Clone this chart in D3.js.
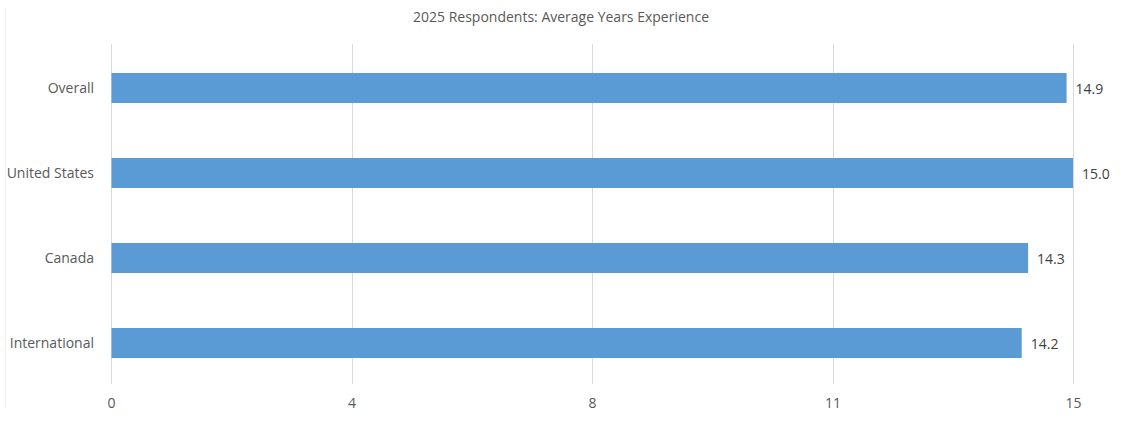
<!DOCTYPE html>
<html><head><meta charset="utf-8">
<script src="https://cdn.jsdelivr.net/npm/d3@7"></script>
<style>
body{margin:0;background:#fff;}
text{font-family:"Open Sans","Lato",sans-serif;}
</style></head>
<body><svg id="c" width="1121" height="422"></svg>
<script>
const categories = ["Overall","United States","Canada","International"];
const values = [14.9, 15.0, 14.3, 14.2];
const tickValues = [0, 3.75, 7.5, 11.25, 15];
const title = "2025 Respondents: Average Years Experience";

const svg = d3.select("#c");
const x = d3.scaleLinear().domain([0,15]).range([111,1073]);
const y = d3.scaleBand().domain(categories).range([45.5,385.5]).paddingInner(55/85).paddingOuter(55/170);

svg.append("line").attr("x1",5.5).attr("x2",5.5).attr("y1",7).attr("y2",408).attr("stroke","#f2f2f2");

svg.append("text").attr("x",561).attr("y",22).attr("text-anchor","middle")
  .attr("font-size",14).attr("fill","#595959").text(title);

svg.append("g").selectAll("line").data(tickValues).join("line")
  .attr("x1",d=>Math.round(x(d))+0.5).attr("x2",d=>Math.round(x(d))+0.5)
  .attr("y1",44).attr("y2",384).attr("stroke","#d9d9d9").attr("stroke-width",1);

const xAxis = svg.append("g").attr("transform","translate(0,384)")
  .call(d3.axisBottom(x).tickValues(tickValues).tickFormat(d=>Math.round(d)).tickSize(0).tickPadding(14));
xAxis.select(".domain").remove();
xAxis.selectAll("text").attr("font-size",14).attr("fill","#595959").attr("font-family","'Open Sans',sans-serif");

const yAxis = svg.append("g").attr("transform","translate(111,1)")
  .call(d3.axisLeft(y).tickSize(0).tickPadding(17));
yAxis.select(".domain").remove();
yAxis.selectAll("text").attr("font-size",14).attr("fill","#595959").attr("font-family","'Open Sans',sans-serif");

svg.append("g").selectAll("rect").data(categories).join("rect")
  .attr("x",x(0)+0.5).attr("y",d=>y(d)).attr("height",y.bandwidth())
  .attr("width",(d,i)=>x(values[i])-x(0)-0.5).attr("fill","#5b9bd5");

svg.append("g").selectAll("text").data(categories).join("text")
  .attr("x",(d,i)=>x(values[i])+9).attr("y",d=>y(d)+y.bandwidth()/2+1).attr("dy","0.35em")
  .attr("font-size",14).attr("fill","#404040").text((d,i)=>values[i].toFixed(1));
</script></body></html>
